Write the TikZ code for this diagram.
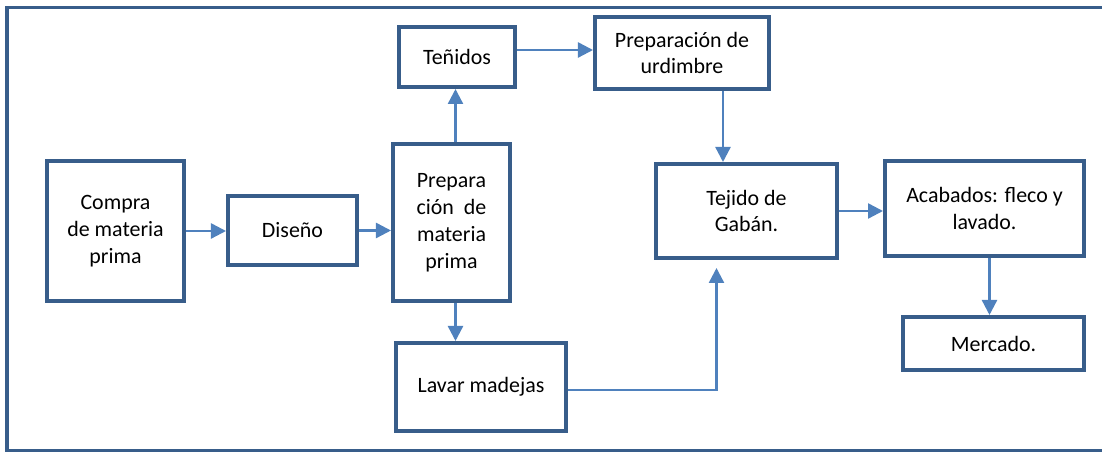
\documentclass[tikz,border=0pt]{standalone}
\usepackage{fontspec}
\setmainfont{Carlito}
\usepackage{xcolor}
\usepackage{tikz}
\usetikzlibrary{arrows.meta, positioning}
\definecolor{borde}{RGB}{56,93,138}
\definecolor{flechaazul}{RGB}{79,129,189}

\begin{document}
\begin{tikzpicture}[x=0.5bp, y=-0.5bp,
		caja/.style={draw=borde, line width=2bp, align=center, inner sep=1bp,
			font=\fontsize{11}{13.5}\selectfont},
		flecha/.style={draw=flechaazul, line width=1.2bp, -{Triangle[length=7.5bp, width=7.5bp]}}]
				\useasboundingbox (0,0) rectangle (1102,453);
				% marco exterior
				\draw[borde, line width=1.5bp] (1102,8)--(7,8)--(7,451)--(1102,451);
				
				\node[caja, minimum width=68.5bp, minimum height=70bp] (compra) at (115.5,231) {Compra\\de materia\\prima};
				\node[caja, minimum width=64.5bp, minimum height=34.5bp] (diseno) at (292.5,230.5) {Diseño};
				\node[caja, minimum width=58.5bp, minimum height=78.5bp] (prep) at (451.5,222.5) {Prepara\\ción\ \ de\\materia\\prima};
				\node[caja, minimum width=58bp, minimum height=30bp] (tenidos) at (457,57) {Teñidos};
				\node[caja, minimum width=85bp, minimum height=44bp] (lavar) at (481,387) {Lavar madejas};
				\node[caja, minimum width=87bp, minimum height=36bp] (urdimbre) at (682,53) {Preparación de\\urdimbre};
				\node[caja, minimum width=90.5bp, minimum height=47bp] (tejido) at (746.5,211) {Tejido de\\Gabán.};
				\node[caja, minimum width=99.5bp, minimum height=47.5bp] (acabados) at (984.5,208.5) {Acabados: fleco y\\lavado.};
				\node[caja, minimum width=90.5bp, minimum height=26.5bp] (mercado) at (993.5,343.5) {Mercado.};
				
				\draw[flecha] (compra.east)--(compra.east -| diseno.west);
				\draw[flecha] (diseno.east)--(diseno.east -| prep.west);
				\draw[flecha] ([xshift=2bp]prep.north)--([xshift=2bp]prep.north |- tenidos.south);
				\draw[flecha] ([xshift=2bp]prep.south)--([xshift=2bp]prep.south |- lavar.north);
				\draw[flecha] ([yshift=3.5bp]tenidos.east)--([yshift=3.5bp]tenidos.east -| urdimbre.west);
				\draw[flecha] ([xshift=20.5bp]urdimbre.south)--([xshift=20.5bp]urdimbre.south |- tejido.north);
				
				\coordinate (llegada) at ([xshift=-15bp, yshift=-4bp]tejido.south);
				\draw[flecha] ([yshift=-1.5bp]lavar.east) -| (llegada);
				
				\draw[flecha] (tejido.east)--(tejido.east -| acabados.west);
				\draw[flecha] ([xshift=2.5bp]acabados.south)--([xshift=2.5bp]acabados.south |- mercado.north);
			\end{tikzpicture}
\end{document}
